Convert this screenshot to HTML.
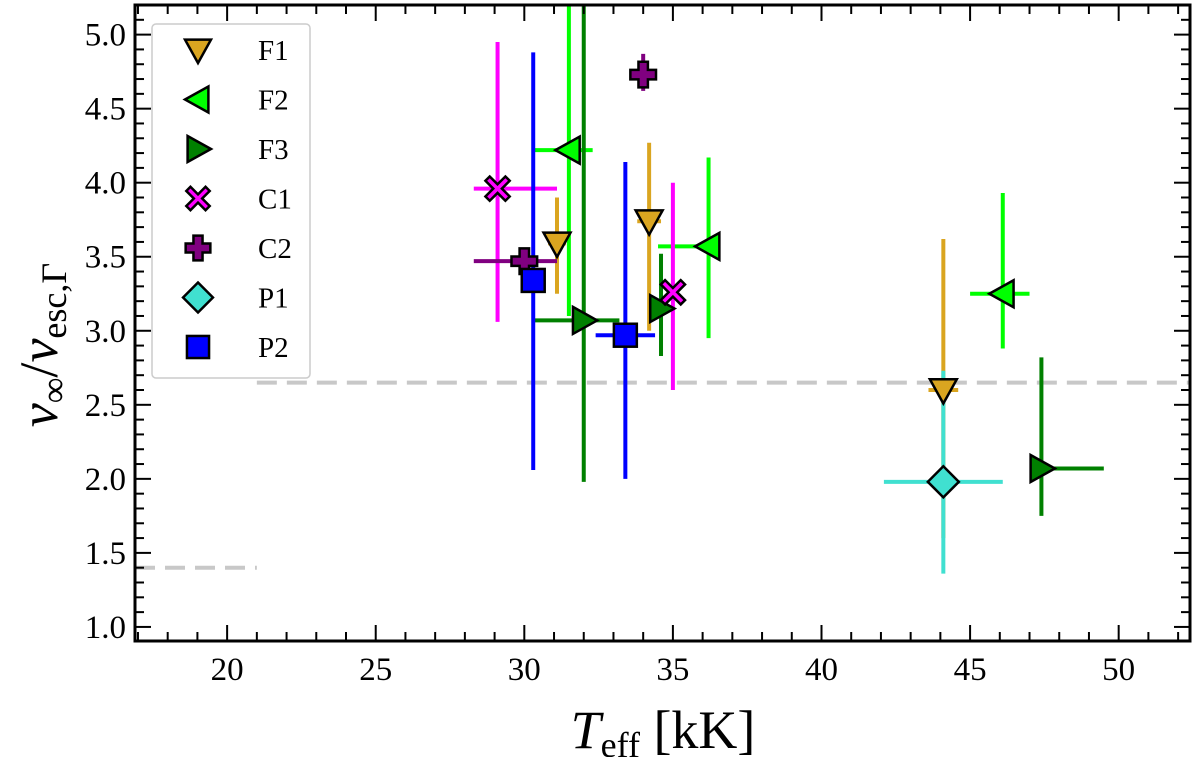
<!DOCTYPE html>
<html><head><meta charset="utf-8"><style>
body{margin:0;background:#fff}
svg{display:block;font-family:"Liberation Serif",serif}
</style></head><body>
<svg id="chart" width="1200" height="757"></svg>
<script>
const groups = ['F1','F2','F3','C1','C2','P1','P2'];
const colors = ['#DAA520','#00FF00','#008000','#FF00FF','#800080','#40E0D0','#0000FF'];
const markers = ['tri-down','tri-left','tri-right','x','plus','diamond','square'];
const teffs = [[31.1,34.2,44.1],[31.5,36.2,46.1],[32.0,34.6,47.4],[29.1,35.0],[30.0,34.0],[44.1],[30.3,33.4]];
const ratios = [[3.59,3.74,2.60],[4.22,3.57,3.25],[3.07,3.15,2.07],[3.96,3.26],[3.47,4.73],[1.98],[3.34,2.97]];
const xLo = [[30.8,33.8,43.6],[30.3,34.5,45.0],[30.3,34.5,47.2],[28.3,35.0],[28.3,34.0],[42.1],[30.3,32.4]];
const xHi = [[31.4,34.6,44.6],[32.3,36.2,47.0],[33.2,34.7,49.5],[31.1,35.0],[31.1,34.0],[46.1],[30.3,34.4]];
const yLo = [[3.25,3.0,1.6],[3.1,2.95,2.88],[1.98,2.83,1.75],[3.06,2.6],[3.45,4.62],[1.36],[2.06,2.0]];
const yHi = [[3.9,4.27,3.62],[5.3,4.17,3.93],[5.3,3.52,2.82],[4.95,4.0],[3.49,4.87],[2.73],[4.88,4.14]];
const xTicks = [20,25,30,35,40,45,50];
const yTicks = [1.0,1.5,2.0,2.5,3.0,3.5,4.0,4.5,5.0];
const L=135,R=1190,T=5,B=641, X0=16.9,X1=52.4, Y0=0.905,Y1=5.2;
const x=v=>L+(v-X0)/(X1-X0)*(R-L);
const y=v=>B-(v-Y0)/(Y1-Y0)*(B-T);
const svg=document.getElementById('chart');
const NS='http://www.w3.org/2000/svg';
function mk(tag,attrs,parent){const e=document.createElementNS(NS,tag);for(const k in attrs)e.setAttribute(k,attrs[k]);(parent||svg).appendChild(e);return e;}
function marker(type,cx,cy,s,fill,parent){
  let e;
  const st={fill:fill,stroke:'#000','stroke-width':2.5,'stroke-linejoin':'miter'};
  if(type==='tri-down')e=mk('polygon',Object.assign({points:`${cx-s},${cy-s*0.8} ${cx+s},${cy-s*0.8} ${cx},${cy+s*1.0}`},st),parent);
  else if(type==='tri-left')e=mk('polygon',Object.assign({points:`${cx-s},${cy} ${cx+s*0.8},${cy-s} ${cx+s*0.8},${cy+s}`},st),parent);
  else if(type==='tri-right')e=mk('polygon',Object.assign({points:`${cx+s},${cy} ${cx-s*0.8},${cy-s} ${cx-s*0.8},${cy+s}`},st),parent);
  else if(type==='square')e=mk('rect',Object.assign({x:cx-s*0.85,y:cy-s*0.85,width:s*1.7,height:s*1.7},st),parent);
  else if(type==='diamond')e=mk('polygon',Object.assign({points:`${cx},${cy-s*1.15} ${cx+s*1.15},${cy} ${cx},${cy+s*1.15} ${cx-s*1.15},${cy}`},st),parent);
  else if(type==='plus'){const a=s*0.35,b=s*0.95;e=mk('polygon',Object.assign({points:`${cx-a},${cy-b} ${cx+a},${cy-b} ${cx+a},${cy-a} ${cx+b},${cy-a} ${cx+b},${cy+a} ${cx+a},${cy+a} ${cx+a},${cy+b} ${cx-a},${cy+b} ${cx-a},${cy+a} ${cx-b},${cy+a} ${cx-b},${cy-a} ${cx-a},${cy-a}`},st),parent);}
  else {const a=s*0.32,b=s*0.9;const pts=[[0,-a],[b-a,-b],[b,-b+a],[a,0],[b,b-a],[b-a,b],[0,a],[-b+a,b],[-b,b-a],[-a,0],[-b,-b+a],[-b+a,-b]];e=mk('polygon',Object.assign({points:pts.map(p=>`${cx+p[0]},${cy+p[1]}`).join(' ')},st),parent);}
  return e;
}
const defs=mk('defs',{});const cp=mk('clipPath',{id:'clip'},defs);mk('rect',{x:L,y:T,width:R-L,height:B-T},cp);
const d1=mk('line',{x1:x(21),x2:R,y1:y(2.65),y2:y(2.65),stroke:'#c8c8c8','stroke-width':4,'stroke-dasharray':'20,10'});

const d2=mk('line',{x1:L,x2:x(21),y1:y(1.40),y2:y(1.40),stroke:'#c8c8c8','stroke-width':4,'stroke-dasharray':'20,10'});

const eg=mk('g',{'clip-path':'url(#clip)'});
groups.forEach((g,i)=>{teffs[i].forEach((t,j)=>{
  const h=mk('line',{x1:x(xLo[i][j]),x2:x(xHi[i][j]),y1:y(ratios[i][j]),y2:y(ratios[i][j]),stroke:colors[i],'stroke-width':4},eg);
  
  const v=mk('line',{x1:x(t),x2:x(t),y1:y(yLo[i][j]),y2:y(yHi[i][j]),stroke:colors[i],'stroke-width':4},eg);
  
});});
groups.forEach((g,i)=>{teffs[i].forEach((t,j)=>{
  const m=marker(markers[i],x(t),y(ratios[i][j]),13.5,colors[i]);
  
});});
for(let v=17;v<=52;v++){const big=v%5===0;const len=big?16:9;
  mk('line',{x1:x(v),x2:x(v),y1:B,y2:B-len,stroke:'#000','stroke-width':2});
  mk('line',{x1:x(v),x2:x(v),y1:T,y2:T+len,stroke:'#000','stroke-width':2});}
for(let k=10;k<=52;k++){const v=k/10;const big=k%5===0;const len=big?16:9;
  mk('line',{x1:L,x2:L+len,y1:y(v),y2:y(v),stroke:'#000','stroke-width':2});
  mk('line',{x1:R,x2:R-len,y1:y(v),y2:y(v),stroke:'#000','stroke-width':2});}
xTicks.forEach(v=>{const t=mk('text',{x:x(v),y:B+39,'text-anchor':'middle','font-size':33});t.textContent=v;
  });
yTicks.forEach(v=>{const t=mk('text',{x:L-9,y:y(v)+11,'text-anchor':'end','font-size':33});t.textContent=v.toFixed(1);
  });
const fr=mk('rect',{x:L,y:T,width:R-L,height:B-T,fill:'none',stroke:'#000','stroke-width':3});

const xt=mk('text',{x:663,y:748,'text-anchor':'middle','font-size':54});
xt.innerHTML='<tspan font-style="italic">T</tspan><tspan font-size="36" dy="9">eff</tspan><tspan dy="-9"> [kK]</tspan>';

const yt=mk('text',{transform:'translate(57,345) rotate(-90)','text-anchor':'middle','font-size':54});
yt.innerHTML='<tspan font-style="italic">v</tspan><tspan font-size="36" dy="9">∞</tspan><tspan dy="-9">/</tspan><tspan font-style="italic">v</tspan><tspan font-size="36" dy="9">esc,Γ</tspan>';

const lg=mk('g',{});
mk('rect',{x:152,y:24,width:158,height:354,rx:4,fill:'#fff',stroke:'#ccc','stroke-width':1.5},lg);
groups.forEach((g,i)=>{const cy=50+i*49.5;
  const m=marker(markers[i],198,cy,13,colors[i],lg);
  
  const t=mk('text',{x:258,y:cy+10,'font-size':29},lg);t.textContent=g;
  });
</script>
</body></html>
